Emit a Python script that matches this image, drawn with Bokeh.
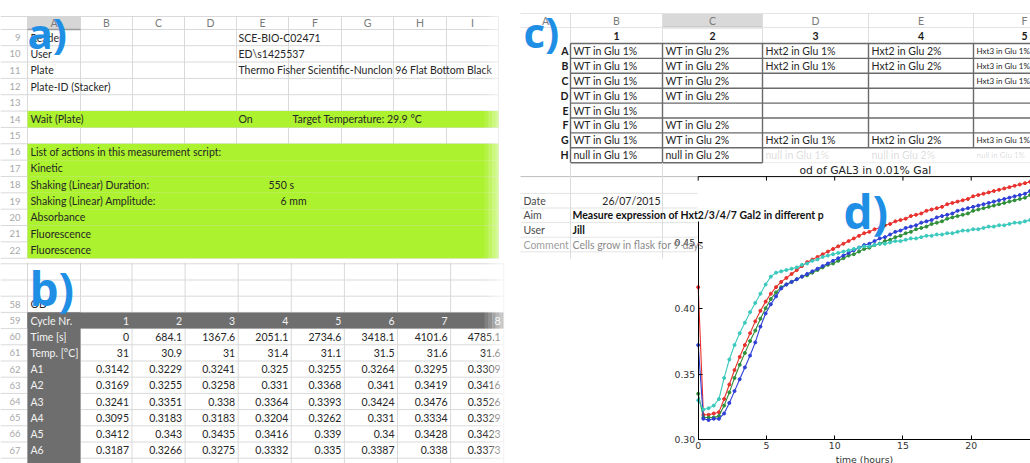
from bokeh.plotting import figure
from bokeh.models import Range1d, LinearAxis, FixedTicker, ColumnDataSource, PrintfTickFormatter
from bokeh.core.properties import value
from bokeh.embed import file_html
from bokeh.resources import INLINE

# ===================== DATA =====================
# panel d : optical density curves
hours = [0.00, 0.38, 0.76, 1.14, 1.52, 1.90, 2.28, 2.66, 3.04, 3.42,
         3.80, 4.18, 4.56, 4.94, 5.32, 5.70, 6.08, 6.46, 6.84, 7.22,
         7.60, 7.98, 8.36, 8.74, 9.12, 9.50, 9.88, 10.26, 10.64, 11.02,
         11.40, 11.78, 12.16, 12.54, 12.92, 13.30, 13.68, 14.06, 14.44, 14.82,
         15.20, 15.58, 15.96, 16.34, 16.72, 17.10, 17.48, 17.86, 18.24, 18.62,
         19.00, 19.38, 19.76, 20.14, 20.52, 20.90, 21.28, 21.66, 22.04, 22.42,
         22.80, 23.18, 23.56, 23.94, 24.32]
od_red = [0.416, 0.319, 0.319, 0.320, 0.321, 0.331, 0.342, 0.353, 0.363, 0.372,
          0.381, 0.390, 0.398, 0.405, 0.411, 0.416, 0.420, 0.423, 0.426, 0.429,
          0.432, 0.435, 0.437, 0.439, 0.441, 0.443, 0.445, 0.447, 0.449, 0.451,
          0.453, 0.455, 0.457, 0.458, 0.460, 0.461, 0.463, 0.464, 0.466, 0.467,
          0.468, 0.470, 0.471, 0.472, 0.474, 0.475, 0.476, 0.477, 0.479, 0.480,
          0.481, 0.482, 0.483, 0.485, 0.486, 0.487, 0.488, 0.489, 0.490, 0.491,
          0.492, 0.493, 0.494, 0.495, 0.496]
od_blue = [0.372, 0.316, 0.315, 0.316, 0.316, 0.320, 0.328, 0.337, 0.346, 0.355,
           0.364, 0.374, 0.386, 0.396, 0.403, 0.409, 0.415, 0.418, 0.420, 0.422,
           0.424, 0.426, 0.428, 0.430, 0.432, 0.434, 0.436, 0.438, 0.440, 0.442,
           0.444, 0.446, 0.448, 0.449, 0.451, 0.453, 0.454, 0.456, 0.458, 0.459,
           0.461, 0.462, 0.463, 0.465, 0.466, 0.467, 0.469, 0.470, 0.471, 0.472,
           0.474, 0.475, 0.476, 0.477, 0.478, 0.479, 0.480, 0.481, 0.482, 0.483,
           0.484, 0.485, 0.486, 0.487, 0.489]
od_green = [0.335, 0.317, 0.317, 0.317, 0.318, 0.326, 0.336, 0.347, 0.357, 0.366,
            0.375, 0.383, 0.392, 0.400, 0.407, 0.412, 0.416, 0.418, 0.420, 0.422,
            0.424, 0.425, 0.427, 0.429, 0.431, 0.433, 0.434, 0.436, 0.438, 0.440,
            0.441, 0.443, 0.445, 0.446, 0.448, 0.449, 0.451, 0.452, 0.454, 0.455,
            0.457, 0.458, 0.460, 0.461, 0.462, 0.464, 0.465, 0.466, 0.468, 0.469,
            0.470, 0.471, 0.472, 0.474, 0.475, 0.476, 0.477, 0.478, 0.479, 0.480,
            0.481, 0.482, 0.483, 0.484, 0.486]
od_cyan = [0.330, 0.323, 0.324, 0.326, 0.331, 0.347, 0.361, 0.372, 0.381, 0.389,
           0.397, 0.404, 0.411, 0.418, 0.424, 0.427, 0.428, 0.429, 0.430, 0.431,
           0.433, 0.434, 0.436, 0.437, 0.439, 0.440, 0.441, 0.442, 0.443, 0.444,
           0.445, 0.446, 0.447, 0.447, 0.448, 0.449, 0.449, 0.450, 0.451, 0.451,
           0.452, 0.453, 0.453, 0.454, 0.455, 0.455, 0.456, 0.456, 0.457, 0.457,
           0.458, 0.459, 0.459, 0.460, 0.460, 0.461, 0.462, 0.462, 0.463, 0.463,
           0.464, 0.465, 0.465, 0.466, 0.467]
y_ticks = [0.30, 0.35, 0.40, 0.45]
x_ticks = [0, 5, 10, 15, 20]
chart_title = "od of GAL3 in 0.01% Gal"
x_label = "time (hours)"

# panel a : measurement script sheet
a_col_letters = ["A", "B", "C", "D", "E", "F", "G", "H", "I"]
a_row_numbers = [9, 10, 11, 12, 13, 14, 15, 16, 17, 18, 19, 20, 21, 22]
a_col_A = ["Reader", "User", "Plate", "Plate-ID (Stacker)", "", "Wait (Plate)", "",
           "List of actions in this measurement script:", "Kinetic",
           "Shaking (Linear) Duration:", "Shaking (Linear) Amplitude:",
           "Absorbance", "Fluorescence", "Fluorescence"]
a_col_E = ["SCE-BIO-C02471", "ED\\s1425537",
           "Thermo Fisher Scientific-Nunclon 96 Flat Bottom Black",
           "", "", "On", "", "", "", "550 s", "6 mm", "", "", ""]
a_col_F = ["", "", "", "", "", "Target Temperature: 29.9 \u00b0C", "", "", "", "", "", "", "", ""]
a_green_rows = [14, 16, 17, 18, 19, 20, 21, 22]

# panel b : raw OD table
b_row_numbers = [58, 59, 60, 61, 62, 63, 64, 65, 66, 67]
b_row_labels = ["OD", "Cycle Nr.", "Time [s]", "Temp. [\u00b0C]", "A1", "A2", "A3", "A4", "A5", "A6"]
b_cycle = [1, 2, 3, 4, 5, 6, 7, 8]
b_time = [0, 684.1, 1367.6, 2051.1, 2734.6, 3418.1, 4101.6, 4785.1]
b_temp = [31, 30.9, 31, 31.4, 31.1, 31.5, 31.6, 31.6]
b_A1 = [0.3142, 0.3229, 0.3241, 0.325, 0.3255, 0.3264, 0.3295, 0.3309]
b_A2 = [0.3169, 0.3255, 0.3258, 0.331, 0.3368, 0.341, 0.3419, 0.3416]
b_A3 = [0.3241, 0.3351, 0.338, 0.3364, 0.3393, 0.3424, 0.3476, 0.3526]
b_A4 = [0.3095, 0.3183, 0.3183, 0.3204, 0.3262, 0.331, 0.3334, 0.3329]
b_A5 = [0.3412, 0.343, 0.3435, 0.3416, 0.339, 0.34, 0.3428, 0.3423]
b_A6 = [0.3187, 0.3266, 0.3275, 0.3332, 0.335, 0.3387, 0.338, 0.3373]

# panel c : plate layout sheet
c_col_letters = ["A", "B", "C", "D", "E", "F"]
c_col_numbers = ["1", "2", "3", "4", "5"]
c_row_letters = ["A", "B", "C", "D", "E", "F", "G", "H"]
c_plate = [
    ["WT in Glu 1%", "WT in Glu 2%", "Hxt2 in Glu 1%", "Hxt2 in Glu 2%", "Hxt3 in Glu 1%"],
    ["WT in Glu 1%", "WT in Glu 2%", "Hxt2 in Glu 1%", "Hxt2 in Glu 2%", "Hxt3 in Glu 1%"],
    ["WT in Glu 1%", "WT in Glu 2%", "", "", "Hxt3 in Glu 1%"],
    ["WT in Glu 1%", "WT in Glu 2%", "", "", ""],
    ["WT in Glu 1%", "", "", "", ""],
    ["WT in Glu 1%", "WT in Glu 2%", "", "", ""],
    ["WT in Glu 1%", "WT in Glu 2%", "Hxt2 in Glu 1%", "Hxt2 in Glu 2%", "Hxt3 in Glu 1%"],
    ["null in Glu 1%", "null in Glu 2%", "null in Glu 1%", "null in Glu 2%", "null in Glu 1%"],
]
c_info_keys = ["Date", "Aim", "User", "Comment"]
c_info_vals = ["26/07/2015", "Measure expression of Hxt2/3/4/7 Gal2 in different p",
               "Jill", "Cells grow in flask for 9 days"]
panel_tags = ["a)", "b)", "c)", "d)"]

# ===================== LAYOUT =====================
W, H = 1030, 463
SHEET_FONT = "Lato"
TAG_BLUE = "#1f8fe5"

p = figure(width=W, height=H, x_range=Range1d(0, W), y_range=Range1d(H, 0),
           x_axis_location=None, y_axis_location=None, toolbar_location=None,
           output_backend="svg", min_border=0, outline_line_color=None)
p.grid.visible = False
p.background_fill_color = "white"
p.border_fill_color = "white"


def txt(xs, ys, ts, size, color="#262626", align="left", baseline="middle",
        font=SHEET_FONT, style="normal", alpha=1.0, level="glyph"):
    src = ColumnDataSource(dict(x=list(xs), y=list(ys), t=list(ts)))
    p.text("x", "y", text="t", source=src, text_font=value(font),
           text_font_size=value(f"{size:.2f}px"), text_color=color,
           text_align=align, text_baseline=baseline, text_font_style=style,
           text_alpha=alpha, level=level)


def segs(x0, y0, x1, y1, color, width=1.0, alpha=1.0, level="glyph", xr="default"):
    src = ColumnDataSource(dict(x0=list(x0), y0=list(y0), x1=list(x1), y1=list(y1)))
    p.segment("x0", "y0", "x1", "y1", source=src, line_color=color,
              line_width=width, line_alpha=alpha, level=level, x_range_name=xr)


def quads(l, r, t, b, color, alpha=1.0, level="glyph"):
    src = ColumnDataSource(dict(l=list(l), r=list(r), t=list(t), b=list(b)))
    p.quad(left="l", right="r", top="t", bottom="b", source=src,
           fill_color=color, fill_alpha=alpha, line_color=None, level=level)


def fade(x_from, x_to, y_top, y_bot, steps=8, level="glyph"):
    w = (x_to - x_from) / steps
    for k in range(steps):
        l = x_from + k * w
        quads([l], [l + w + 0.3], [y_top], [y_bot], "white", alpha=(k + 1) / steps, level=level)


# ---------- panel a ----------
A_EDGES = [27, 80, 132, 184, 236, 288, 341, 393, 446, 498]
A_Y0, A_RH = 37.0, 16.35
A_HT, A_HB = 16.0, 29.0
def a_y(r):
    return A_Y0 + (r - a_row_numbers[0]) * A_RH
a_bot = a_y(a_row_numbers[-1]) + A_RH / 2
GRID = "#d9d9d9"

hy = [A_HT, A_HB] + [a_y(r) + A_RH / 2 for r in a_row_numbers]
segs([0] * len(hy), hy, [A_EDGES[-1]] * len(hy), hy, GRID)
segs(A_EDGES, [A_HT] * len(A_EDGES), A_EDGES, [a_bot] * len(A_EDGES), GRID)
quads([A_EDGES[0]], [A_EDGES[1]], [A_HT], [A_HB], "#d6d6d6")
segs([A_EDGES[0]], [A_HB], [A_EDGES[1]], [A_HB], "#9a9a9a", width=1.5)
quads([A_EDGES[0]] * len(a_green_rows), [A_EDGES[-1]] * len(a_green_rows),
      [a_y(r) - A_RH / 2 for r in a_green_rows], [a_y(r) + A_RH / 2 for r in a_green_rows],
      "#acf22e")
txt([(A_EDGES[i] + A_EDGES[i + 1]) / 2 for i in range(len(a_col_letters))],
    [(A_HT + A_HB) / 2] * len(a_col_letters), a_col_letters, 10.5, "#7a7a7a", align="center")
txt([20] * len(a_row_numbers), [a_y(r) for r in a_row_numbers],
    [str(r) for r in a_row_numbers], 9.5, "#a8a8a8", align="right")
E_X_OVERRIDE = {"550 s": 268, "6 mm": 280}
xs, ys, ts = [], [], []
for i, r in enumerate(a_row_numbers):
    if a_col_A[i]:
        xs.append(A_EDGES[0] + 3); ys.append(a_y(r)); ts.append(a_col_A[i])
    if a_col_E[i]:
        xs.append(E_X_OVERRIDE.get(a_col_E[i], A_EDGES[4] + 2)); ys.append(a_y(r)); ts.append(a_col_E[i])
    if a_col_F[i]:
        xs.append(A_EDGES[5] + 4); ys.append(a_y(r)); ts.append(a_col_F[i])
txt(xs, ys, ts, 10.5, "#262626")

# ---------- panel b ----------
B_EDGES = [27, 80, 131.5, 184.6, 237.7, 290.8, 343.9, 397.0, 450.1, 503.2]
B_Y0, B_RH = 320.0, 16.2
def b_y(r):
    return B_Y0 + (r - b_row_numbers[1]) * B_RH
by_lines = [b_y(r) + B_RH / 2 for r in range(b_row_numbers[0] - 3, b_row_numbers[-1] + 1)]
segs([0] * len(by_lines), by_lines, [B_EDGES[-1]] * len(by_lines), by_lines, GRID)
segs(B_EDGES, [262] * len(B_EDGES), B_EDGES, [H] * len(B_EDGES), GRID)
DARK = "#6e6e6e"
quads([B_EDGES[0]], [B_EDGES[-1]], [b_y(59) - B_RH / 2], [b_y(59) + B_RH / 2], DARK)
quads([B_EDGES[0]], [B_EDGES[1]], [b_y(59) - B_RH / 2], [H], DARK)
txt([20] * len(b_row_numbers), [b_y(r) for r in b_row_numbers],
    [str(r) for r in b_row_numbers], 9.5, "#a8a8a8", align="right")
txt([B_EDGES[0] + 3], [b_y(58)], [b_row_labels[0]], 10.5, "#262626")
txt([B_EDGES[0] + 3] * 9, [b_y(r) for r in b_row_numbers[1:]], b_row_labels[1:], 10.5, "#f4f4f4")
b_rows = [b_cycle, b_time, b_temp, b_A1, b_A2, b_A3, b_A4, b_A5, b_A6]
for j, row in enumerate(b_rows):
    r = b_row_numbers[j + 1]
    txt([B_EDGES[k + 2] - 3 for k in range(len(row))], [b_y(r)] * len(row),
        [f"{v:g}" for v in row], 10.5, "#f4f4f4" if j == 0 else "#262626", align="right")

# soft right edge of the left screenshots
fade(484, 514, 0, H, steps=8)

# ---------- panel c ----------
C_EDGES = [570, 662, 762, 868, 973, 1078]
C_HT, C_HB = 13.0, 27.0
C_NUM_Y = 35.0
C_T0, C_RH = 43.0, 14.9
def c_y(i):
    return C_T0 + C_RH * (i + 0.5)
c_centers = [545] + [(C_EDGES[i] + C_EDGES[i + 1]) / 2 for i in range(5)]
c_centers[-1] = min(c_centers[-1], W - 6)
quads([C_EDGES[1]], [C_EDGES[2]], [C_HT], [C_HB], "#d9d9d9")
segs([C_EDGES[1]], [C_HB], [C_EDGES[2]], [C_HB], "#9a9a9a", width=1.5)
segs([520] * 2, [C_HT, C_HB], [W] * 2, [C_HT, C_HB], "#e3e3e3")
segs(C_EDGES[:-1], [C_HT] * 5, C_EDGES[:-1], [C_T0] * 5, "#dedede")
txt(c_centers, [(C_HT + C_HB) / 2] * 6, c_col_letters, 10.5, "#7a7a7a", align="center")
txt(c_centers[1:], [C_NUM_Y] * 5, c_col_numbers, 10.5, "#1a1a1a", align="center", style="bold")
txt([568] * 8, [c_y(i) for i in range(8)], c_row_letters, 10.5, "#1a1a1a", align="right", style="bold")
n_rows = len(c_row_letters)
hl = [C_T0 + C_RH * i for i in range(n_rows)]
BORDER = "#6a6a6a"
segs([C_EDGES[0]] * len(hl), hl, [W] * len(hl), hl, BORDER, width=1.4)
yb = C_T0 + C_RH * n_rows
segs([C_EDGES[0]], [yb], [C_EDGES[2]], [yb], BORDER, width=1.4)
segs([C_EDGES[2]], [yb], [W], [yb], BORDER, width=1.0, alpha=0.15)
segs(C_EDGES[:3], [C_T0] * 3, C_EDGES[:3], [yb] * 3, BORDER, width=1.4)
segs(C_EDGES[3:5], [C_T0] * 2, C_EDGES[3:5], [C_T0 + C_RH * 7] * 2, BORDER, width=1.4)
cells = {}   # (faded, narrow) -> lists
for i, row in enumerate(c_plate):
    for k, cell in enumerate(row):
        if not cell:
            continue
        key = (i == n_rows - 1 and k >= 2, k == len(row) - 1)
        cells.setdefault(key, ([], [], []))
        cells[key][0].append(C_EDGES[k] + 3); cells[key][1].append(c_y(i)); cells[key][2].append(cell)
for (faded, narrow), (cx, cy, ct) in cells.items():
    txt(cx, cy, ct, 8.0 if narrow else 10.5, "#262626", alpha=0.18 if faded else 1.0)
INFO_Y0, INFO_DY = 200.2, 14.6
gy = [INFO_Y0 + INFO_DY * (i - 0.5) for i in range(5)]
segs([520] * len(gy), gy, [697] * len(gy), gy, "#e4e4e4")
segs([520], [176.1], [697.7], [176.1], "#bdbdbd")
segs(C_EDGES[:2], [yb] * 2, C_EDGES[:2], [258] * 2, "#dcdcdc")

# ---------- panel d : chart ----------
CX0, CPX_H = 697.7, 13.65       # layout x of t=0 and px per hour
CY0, CPX_OD = 439.3, 1316.0     # layout y of od=0.30 and px per od unit
OD0 = 0.30
t_end = (W - CX0) / CPX_H
od_top = 0.50
p.extra_x_ranges = {"t": Range1d(-CX0 / CPX_H, t_end)}
p.extra_y_ranges = {"od": Range1d(OD0 - (H - CY0) / CPX_OD, OD0 + CY0 / CPX_OD)}
y_top = CY0 - (od_top - OD0) * CPX_OD

series = [(od_red, "#e8302c"), (od_green, "#2f8f3a"), (od_blue, "#2f3fd6"), (od_cyan, "#3bc9bd")]
for ys_, col in series:
    src = ColumnDataSource(dict(t=hours, od=ys_))
    p.line("t", "od", source=src, x_range_name="t", y_range_name="od",
           line_color=col, line_width=1.1)
    p.scatter("t", "od", source=src, x_range_name="t", y_range_name="od",
              size=3, fill_color=col, line_color=col, marker="circle")

AX_FONT = "DejaVu Sans"
def style_axis(ax):
    ax.axis_line_color = "black"
    ax.axis_line_width = 1
    ax.major_tick_line_color = "black"
    ax.major_tick_in = 4
    ax.major_tick_out = 0
    ax.minor_tick_line_color = None
    ax.major_label_text_font = AX_FONT
    ax.major_label_text_font_size = "9.3px"
    ax.major_label_text_color = "#333333"

yax = LinearAxis(y_range_name="od", fixed_location=CX0, bounds=(OD0, 0.466),
                 ticker=FixedTicker(ticks=y_ticks), formatter=PrintfTickFormatter(format="%.2f"))
style_axis(yax)
yax.major_label_standoff = 3
p.add_layout(yax, "left")

xax = LinearAxis(x_range_name="t", fixed_location=CY0, bounds=(0, t_end),
                 ticker=FixedTicker(ticks=x_ticks), axis_label=x_label)
style_axis(xax)
xax.major_label_standoff = 2
xax.axis_label_standoff = 2
xax.axis_label_text_font = AX_FONT
xax.axis_label_text_font_size = "9.3px"
xax.axis_label_text_font_style = "normal"
xax.axis_label_text_color = "#333333"
p.add_layout(xax, "below")

# top spine with inward ticks
segs([CX0], [y_top], [W], [y_top], "black")
segs(x_ticks, [y_top] * len(x_ticks), x_ticks, [y_top + 4] * len(x_ticks), "black", xr="t")

txt([(CX0 + W) / 2 + 1], [169.5], [chart_title], 10.8, "#222222", align="center", font=AX_FONT)

# info block of sheet c (drawn over the chart corner)
info_y = [INFO_Y0 + INFO_DY * i for i in range(4)]
txt([523] * 3, info_y[:3], c_info_keys[:3], 10.5, "#4a4a4a", level="overlay")
txt([523], info_y[3:], c_info_keys[3:], 10.5, "#a0a0a0", level="overlay")
txt([660], [info_y[0]], [c_info_vals[0]], 10.5, "#262626", align="right", level="overlay")
txt([572, 572], [info_y[1], info_y[2]], [c_info_vals[1], c_info_vals[2]], 10.5, "#111111",
    style="bold", level="overlay")
txt([572], [info_y[3]], [c_info_vals[3]], 10.5, "#8c8c8c", level="overlay")
fade(822, 866, info_y[1] - 7, info_y[1] + 7, steps=8, level="overlay")

# panel tags
tag_x = [27, 29, 523, 843]
tag_y = [32, 287, 31, 210]
tag_size = [42, 46, 42, 46]
for i in range(4):
    txt([tag_x[i]], [tag_y[i]], [panel_tags[i]], tag_size[i], TAG_BLUE,
        font="Open Sans", style="bold", level="overlay")

open("out.html", "w").write(file_html(p, INLINE))
